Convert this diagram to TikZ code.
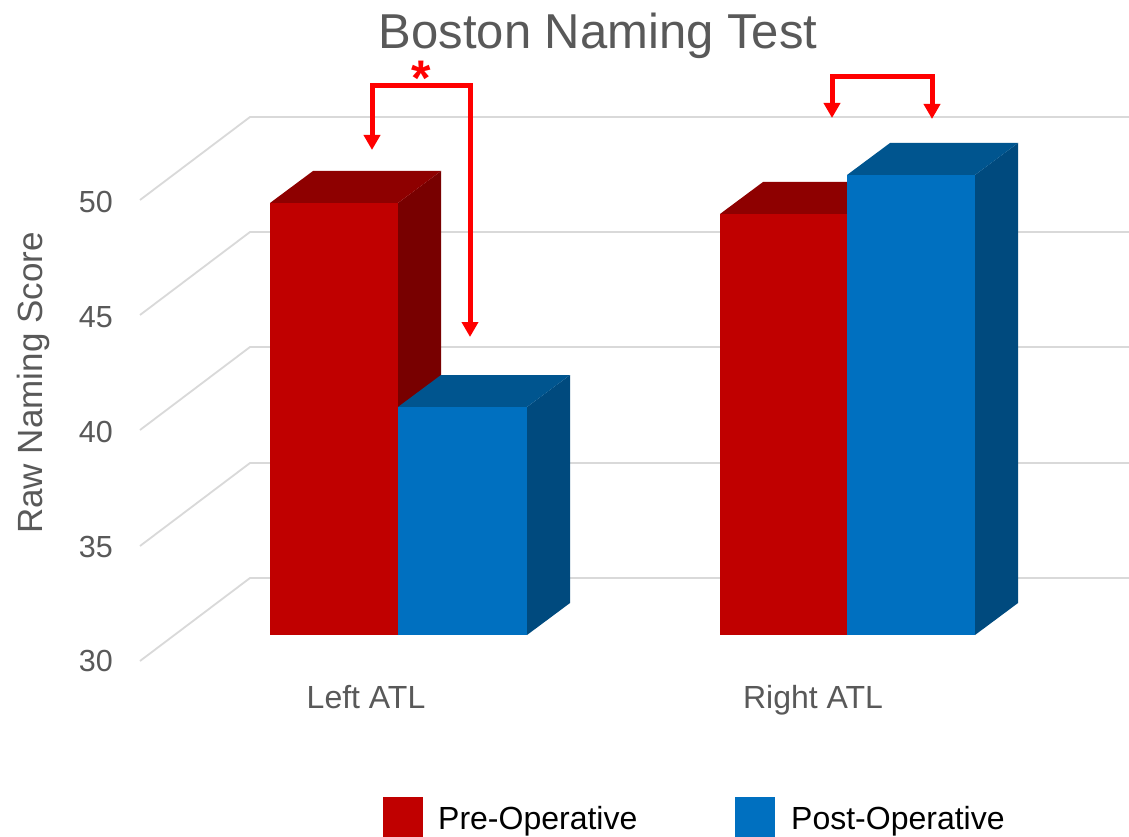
\documentclass[tikz,border=0pt]{standalone}
\usepackage{fontspec}
\setmainfont{Liberation Sans}
\usetikzlibrary{arrows.meta}
\definecolor{txtgray}{HTML}{595959}
\definecolor{gridgray}{HTML}{D9D9D9}
\definecolor{redfront}{HTML}{C00000}
\definecolor{redtop}{HTML}{8E0000}
\definecolor{redside}{HTML}{780000}
\definecolor{bluefront}{HTML}{0070C0}
\definecolor{bluetop}{HTML}{00558F}
\definecolor{blueside}{HTML}{004A7E}
\definecolor{annot}{HTML}{FF0000}
\tikzset{
  gridline/.style={draw=gridgray,line width=1.8pt},
  ticklabel/.style={text=txtgray,font=\fontsize{30.5}{36}\selectfont,anchor=base east,inner sep=0pt},
  catlabel/.style={text=txtgray,font=\fontsize{32}{38}\selectfont,anchor=base,inner sep=0pt},
  legtext/.style={text=black,font=\fontsize{32}{38}\selectfont,anchor=base west,inner sep=0pt},
  bracket/.style={draw=annot,line width=5pt,line join=miter,
    {Triangle[length=15pt,width=16pt]}-{Triangle[length=15pt,width=16pt]}},
}
% bar: #1 front colour, #2 top colour, #3 side colour, #4 x0, #5 x1, #6 top y
\newcommand{\bardraw}[6]{%
  \fill[#3] (#5,635) -- (#5,#6) -- ++(43,-32) -- (#5+43,603) -- cycle;
  \fill[#2] (#4,#6) -- (#5,#6) -- ++(43,-32) -- (#4+43,#6-32) -- cycle;
  \fill[#1] (#4,635) rectangle (#5,#6);
}
\begin{document}
\begin{tikzpicture}[x=1pt,y=-1pt]
\useasboundingbox[fill=white] (0,0) rectangle (1129,837);
% grid
\foreach \y in {117,232,347,463,578}{
  \draw[gridline] (140,\y+83) -- (250,\y) -- (1129,\y);
}
% tick labels
\node[ticklabel] (t50) at (113,212) {50};
\node[ticklabel] (t45) at (113,327) {45};
\node[ticklabel] (t40) at (113,442) {40};
\node[ticklabel] (t35) at (113,557) {35};
\node[ticklabel] (t30) at (113,671) {30};
\node[text=txtgray,font=\fontsize{35}{40}\selectfont,rotate=90,anchor=base,inner sep=0pt] (ytitle) at (42,383) {Raw Naming Score};
% title
\node[text=txtgray,font=\fontsize{49}{56}\selectfont,anchor=base,inner sep=0pt] (title) at (598,49) {Boston Naming Test};
% bars
\bardraw{redfront}{redtop}{redside}{270}{398}{203}
\bardraw{bluefront}{bluetop}{blueside}{398}{527}{407}
\bardraw{redfront}{redtop}{redside}{720}{847}{214}
\bardraw{bluefront}{bluetop}{blueside}{847}{975}{175}
% category labels
\node[catlabel] (leftatl) at (366,708) {Left ATL};
\node[catlabel] (rightatl) at (813,708) {Right ATL};
% annotation brackets
\coordinate (la) at (372,150);
\coordinate (lb) at (470,337);
\coordinate (ra) at (832,118);
\coordinate (rb) at (932,119);
\draw[bracket] (la) -- (372,86) -- (470,86) -- (lb);
\draw[bracket] (ra) -- (832,77) -- (932,77) -- (rb);
\node[text=annot,font=\fontsize{50}{56}\selectfont\bfseries,anchor=north,inner sep=0pt] (star) at (421,61) {*};
% legend
\fill[redfront] (383,797) rectangle (423,837);
\node[legtext] (legpre) at (438,829) {Pre-Operative};
\fill[bluefront] (735,797) rectangle (775,837);
\node[legtext] (legpost) at (791,829) {Post-Operative};
\end{tikzpicture}
\end{document}
